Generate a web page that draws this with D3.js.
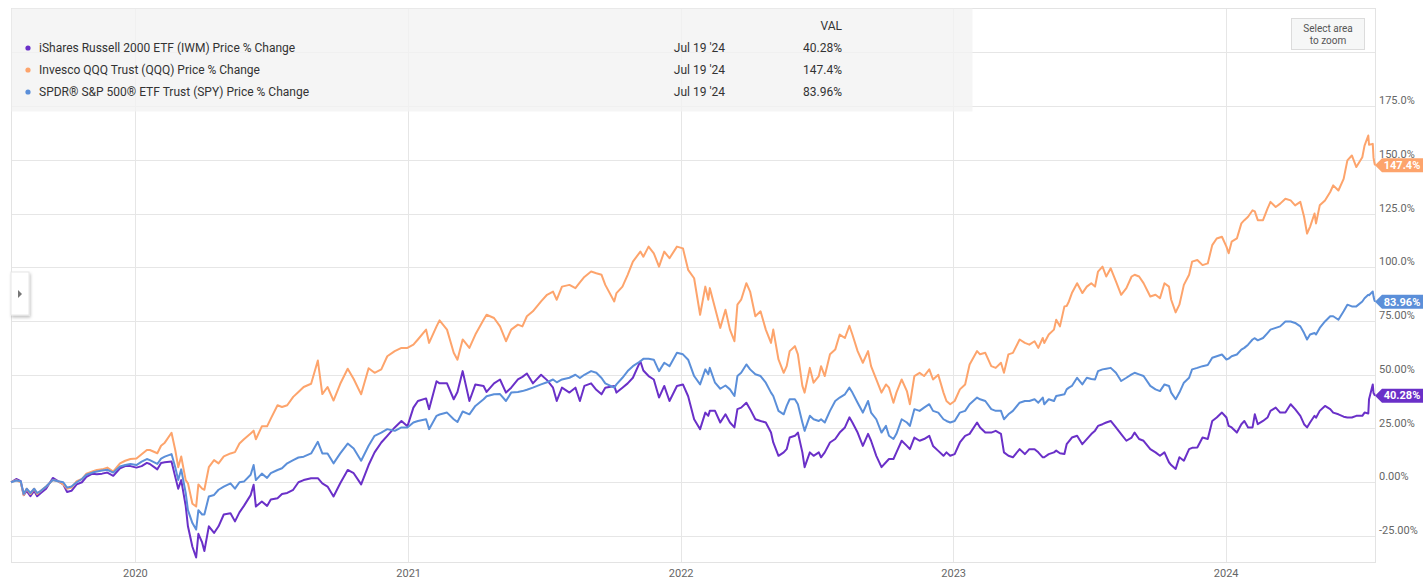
<!DOCTYPE html>
<html>
<head>
<meta charset="utf-8">
<script src="https://cdn.jsdelivr.net/npm/d3@7"></script>
<style>
  html, body { margin: 0; padding: 0; background: #fff; }
  svg { display: block; font-family: Roboto, "Noto Sans", Arial, sans-serif; }
</style>
</head>
<body>
<svg id="chart" width="1424" height="581"></svg>
<script>
// ---------------- data ----------------
const dates = [
"2019-07-19","2019-07-26","2019-08-01","2019-08-05","2019-08-09","2019-08-14","2019-08-19","2019-08-23","2019-08-28","2019-09-04",
"2019-09-13","2019-09-20","2019-09-27","2019-10-02","2019-10-08","2019-10-15","2019-10-22","2019-10-28","2019-11-05","2019-11-11",
"2019-11-18","2019-11-25","2019-12-03","2019-12-12","2019-12-19","2019-12-26","2020-01-03","2020-01-10","2020-01-17","2020-01-21",
"2020-01-31","2020-02-05","2020-02-10","2020-02-19","2020-02-24","2020-02-28","2020-03-03","2020-03-09","2020-03-12","2020-03-18",
"2020-03-23","2020-03-26","2020-03-31","2020-04-03","2020-04-09","2020-04-16","2020-04-22","2020-04-29","2020-05-08","2020-05-14",
"2020-05-20","2020-05-26","2020-06-04","2020-06-08","2020-06-11","2020-06-19","2020-06-26","2020-07-01","2020-07-10","2020-07-16",
"2020-07-23","2020-07-31","2020-08-07","2020-08-14","2020-08-24","2020-09-02","2020-09-08","2020-09-15","2020-09-23","2020-10-02",
"2020-10-12","2020-10-20","2020-10-30","2020-11-09","2020-11-17","2020-11-26","2020-12-04","2020-12-14","2020-12-23","2020-12-31",
"2021-01-08","2021-01-14","2021-01-25","2021-01-29","2021-02-08","2021-02-12","2021-02-22","2021-03-03","2021-03-08","2021-03-15",
"2021-03-24","2021-04-01","2021-04-12","2021-04-16","2021-04-26","2021-05-04","2021-05-12","2021-05-19","2021-05-28","2021-06-03",
"2021-06-09","2021-06-17","2021-06-28","2021-07-06","2021-07-14","2021-07-19","2021-07-26","2021-08-05","2021-08-13","2021-08-19",
"2021-08-25","2021-09-03","2021-09-10","2021-09-17","2021-09-22","2021-10-04","2021-10-07","2021-10-15","2021-10-22","2021-10-29",
"2021-11-08","2021-11-12","2021-11-19","2021-11-26","2021-12-03","2021-12-10","2021-12-17","2021-12-27","2022-01-04","2022-01-11",
"2022-01-19","2022-01-27","2022-02-03","2022-02-07","2022-02-09","2022-02-16","2022-02-23","2022-03-02","2022-03-08","2022-03-14",
"2022-03-18","2022-03-23","2022-03-30","2022-04-04","2022-04-11","2022-04-18","2022-04-25","2022-05-02","2022-05-05","2022-05-12",
"2022-05-19","2022-05-23","2022-05-27","2022-06-03","2022-06-07","2022-06-13","2022-06-16","2022-06-23","2022-06-28","2022-07-05",
"2022-07-08","2022-07-13","2022-07-20","2022-07-27","2022-08-02","2022-08-09","2022-08-15","2022-08-19","2022-08-26","2022-09-02",
"2022-09-09","2022-09-13","2022-09-20","2022-09-27","2022-10-03","2022-10-07","2022-10-13","2022-10-17","2022-10-24","2022-10-31",
"2022-11-04","2022-11-10","2022-11-17","2022-11-23","2022-11-30","2022-12-05","2022-12-12","2022-12-19","2022-12-23","2022-12-28",
"2023-01-03","2023-01-10","2023-01-17","2023-01-23","2023-02-02","2023-02-06","2023-02-13","2023-02-21","2023-02-27","2023-03-06",
"2023-03-10","2023-03-16","2023-03-22","2023-03-31","2023-04-07","2023-04-13","2023-04-20","2023-04-25","2023-05-01","2023-05-03",
"2023-05-09","2023-05-16","2023-05-19","2023-05-24","2023-05-30","2023-06-02","2023-06-05","2023-06-09","2023-06-16","2023-06-23",
"2023-06-29","2023-07-05","2023-07-10","2023-07-14","2023-07-20","2023-07-25","2023-07-31","2023-08-07","2023-08-14","2023-08-21",
"2023-08-28","2023-09-01","2023-09-07","2023-09-13","2023-09-22","2023-09-29","2023-10-05","2023-10-11","2023-10-17","2023-10-20",
"2023-10-26","2023-10-31","2023-11-06","2023-11-13","2023-11-17","2023-11-24","2023-12-01","2023-12-08","2023-12-14","2023-12-20",
"2023-12-27","2024-01-02","2024-01-05","2024-01-09","2024-01-16","2024-01-22","2024-01-26","2024-01-31","2024-02-06","2024-02-09",
"2024-02-13","2024-02-20","2024-02-26","2024-03-01","2024-03-08","2024-03-14","2024-03-21","2024-03-28","2024-04-03","2024-04-10",
"2024-04-15","2024-04-19","2024-04-23","2024-04-29","2024-05-01","2024-05-06","2024-05-13","2024-05-20","2024-05-24","2024-05-31",
"2024-06-07","2024-06-12","2024-06-18","2024-06-24","2024-07-02","2024-07-05","2024-07-10","2024-07-11","2024-07-16","2024-07-17",
"2024-07-18","2024-07-19"
];

const qqq = [
0,1,0,-6,-3,-5.5,-3,-5.5,-4,-2,
1,0.5,-1,-3,-2.5,0.5,1.5,4,5,5.7,
6,6.8,5,8.8,10,10.8,11,13,15,15,
13.5,17,18.4,23,15,7,12,1,-0.5,-10,
-11.3,-1,-3,-3.5,7,10.3,8.8,12,13.4,14,
18,20,22.7,24,20,26,26,29.6,35.8,35,
35.8,39.7,42,44.3,45.8,56.6,41,44.3,38,45.8,
52.8,48,40.9,53,50.9,52.5,58.6,61,62.5,62.5,
64,66.4,71,64.8,72.5,75.3,71,60.2,57,66.4,
62.5,68.7,75.6,77.9,76.4,72.5,65.6,71,73.3,72.5,
77.2,79.5,84.1,87.2,88.7,84.9,91,91.8,90.3,93,
95.5,98,97.2,96.5,91.8,84.1,88,91,96.5,102.6,
107.3,104.9,109.6,106.5,100.3,107.3,104.2,109.6,108.8,98.8,
94.9,77.9,91,84.9,90.3,81,71.8,80.2,71,65.6,
82.6,84.9,92.6,88.7,77.2,79.5,71,64.8,71,57.1,
50.9,54,61,63.3,59.5,44.8,41.7,53.2,46.3,49.4,
54,49.4,59.5,61.7,68.7,67.1,72.8,68.7,61,55.6,
61,54,47.8,41.7,45.5,44,37,41.7,47.8,42.4,
36.3,49.4,50.9,49.4,52.5,47.8,50,41.7,37.8,36.3,
37.8,43.2,45.5,54.8,61,59.5,60.2,54,53.2,55.6,
50.9,59.5,60.2,66.4,64.8,64,65.6,62.5,67.1,64.8,
68.7,71,75.6,72.5,81.8,82,84.1,88,92.6,88,
91,92.6,91,98,100.3,95.7,99.5,93.4,87.2,90.3,
95.7,96.5,95.7,92.6,86.4,87.2,85.6,92.6,91,84.9,
79,82.6,91.8,96.5,102.6,103.4,101,101.8,110.3,113.4,
114.2,109.6,106.5,111.9,113.4,120.4,121.9,123.5,126.5,126,
121.9,121.9,127.3,130.4,128,129.6,131.9,131.1,128.8,130.4,
123.5,115.7,118.8,125,120.4,128.8,131.1,135,138.1,135.7,
141.1,149.7,152,146.6,151.2,156.6,161.3,157,157.4,151,
149,147.4
];

const spy = [
0,0.8,0.5,-5.5,-3,-5,-3,-5,-4,-2,
1,0.5,0,-2.5,-2,0,1.5,3.5,4.5,5,
5.5,5.8,4.5,7.3,8,8.5,8,9.6,10.8,10.3,
8.5,11,11.9,13.1,7,1,6,-5,-13,-19,
-22,-13,-15,-15,-6.6,-5.9,-3.5,-2,-0.5,-3,
0,0.3,3.5,8,1,4,2,4.2,5.7,6.5,
8.8,10.3,11.5,11.9,13.4,18.8,13.4,13.4,8.8,13.4,
18,15.7,10,17,21.6,23.1,24.7,23.9,25.5,25.5,
27.8,28.5,29.3,24.7,30.9,31.5,32.4,29.3,28,32.9,
31.6,35.5,38.6,40,40.9,41,37.8,41.7,42,42.4,
43,44,45.5,46.5,47.8,46.5,47.8,48.6,50,48.5,
50,51.7,50.9,48.5,46,44,45.5,48.6,51.7,54,
56.3,57.4,57.4,57,51.7,55.6,54,60.2,59.5,57,
49.4,45.5,52.5,50.2,53.2,46.3,43.5,45,43.2,40.1,
49.4,50.9,54.8,52.5,50.2,49.4,46.3,41.7,40.1,33.2,
31.6,35.5,38.6,38.6,36.3,27.8,23.9,30.9,29.3,28.5,
29.3,27.8,33.2,37.8,39.4,40.9,44,41.7,37,32.4,
37.8,32.4,29.3,23.1,26.2,21.6,20.1,22.5,29.3,27.8,
26.2,34,33.2,34.7,36.3,33.2,32.4,29.3,28.5,27.8,
28.5,32.4,33.2,36.3,39.4,38.6,37.8,34,33.2,33.2,
29.3,31.6,33.2,37,37.8,37.8,38.6,37,39.4,36.3,
38.6,37.8,40.1,40.5,40.9,43.2,44,44.8,48.6,45.5,
48.6,48,47.8,51.7,52.5,52.8,53.2,50.9,47.1,48.6,
50.2,50.9,50.2,49.4,44.8,43.2,42.4,45.5,44.8,41.7,
38.6,41.7,46.3,48.6,52.5,53.2,54,54.5,57.9,58.6,
59.4,57.1,57.5,58.6,59.4,61.7,62.5,64,66.4,67,
66,67.1,69.4,71,71.8,72.5,74.8,74.8,74.1,72.5,
69.4,66.4,68.7,69.4,68.7,71.8,74.8,77.2,77.2,75.6,
79.5,82.6,81.8,81.8,84.1,85.6,87.2,87,88.7,86.5,
84.9,83.96
];

const iwm = [
0,1.5,0.5,-6,-4,-6.5,-4,-6.5,-5,-3,
2,0.5,-1,-4.5,-4,-1,0,2.5,4,3.7,
4,4.5,3,6.5,7.5,7.5,6.8,7.5,9,8.5,
6,9,9.3,9.6,2.5,-3,1,-11,-20.5,-30,
-35,-24,-28,-32,-20.5,-23.6,-20.5,-15,-14.4,-18.2,
-14,-11,-6,-1.2,-11.3,-9,-11,-8,-7.4,-5.5,
-5,-3.5,0,1,1.9,1.9,-0.5,-2,-6.6,-0.5,
5.7,4.2,-1,8,13.9,18.5,21.6,25.5,28.5,26,
34.7,37.8,39,34,47,46,46,38.6,42,51.7,
37.8,45.5,44.8,42,46,47.8,41.7,44,47.8,49,
50.6,46,50,47.5,44,37.8,44,41.7,44,37.8,
44.8,46,43,40.9,44,44.8,41.7,44,46,48.6,
56.3,52,49.4,47.8,39.4,44.8,37.8,44.8,45.5,40,
29.3,24.7,32.4,30.9,33.2,33.2,27.8,31.6,27.8,25.5,
34,34.7,37,34,29.3,28.5,27.8,23.1,18.5,12.3,
13.9,15.4,20.8,21.6,23.1,13.9,7,13.9,12.3,13.9,
11.6,13.9,18.5,20.1,23.1,25.5,30.2,27.8,23.1,16.9,
22.5,19.3,12.3,7,9.3,10.8,10.8,13.9,19.3,16.9,
15.4,20.8,19.3,20.1,21.6,16.9,14.6,12.3,13.9,12.3,
13.1,18.5,21.6,22.5,27.8,25.5,23.1,23.1,23.9,22.5,
13.9,12.3,11.6,15.4,13.1,15.4,15.4,13.9,11.6,11.6,
13.1,13.9,14.7,13.5,13.1,17.7,19,20.8,21.6,17.7,
20.1,22.4,24,26.2,27,27.8,28.5,25.5,22.4,19.3,
20.8,23.1,20.1,19.3,15.4,13.9,12.3,13.9,9.3,8,
6.2,11.6,10,15.4,16,16.2,20.8,20.1,28.5,30.1,
32.4,30.1,26.2,25.5,23.1,27,28.5,25.5,25.5,31.6,
27,28.5,30.1,33.2,34.7,32.4,32.4,36.3,34,30.9,
27,25.5,27.8,30.9,30,33.2,35.5,34,32.4,31.6,
30.5,30.1,30.1,30.9,30.9,32.4,32,38.6,45.5,41.5,
40.9,40.28
];

const seriesNames = [
  "iShares Russell 2000 ETF (IWM) Price % Change",
  "Invesco QQQ Trust (QQQ) Price % Change",
  "SPDR® S&P 500® ETF Trust (SPY) Price % Change"
];
const seriesColors = ["#6a30c8", "#fda46c", "#5b8fd9"];
const lastDate = ["Jul 19 '24", "Jul 19 '24", "Jul 19 '24"];
const lastValueLabels = ["40.28%", "147.4%", "83.96%"];
const yTickValues = [-25, 0, 25, 50, 75, 100, 125, 150, 175];
const yTickLabels = ["-25.00%", "0.00%", "25.00%", "50.00%", "75.00%", "100.0%", "125.0%", "150.0%", "175.0%"];
const yGridValues = [-25, 0, 25, 50, 75, 100, 125, 150, 175, 200];

// ---------------- chart ----------------
const parse = d3.timeParse("%Y-%m-%d");
const dateObjs = dates.map(parse);
const seriesValues = [iwm, qqq, spy];
const series = seriesValues.map((vals, i) => ({
  name: seriesNames[i], color: seriesColors[i],
  points: vals.map((v, j) => ({ date: dateObjs[j], value: v }))
}));

const svg = d3.select("#chart");
const L = 11, R = 1375, T = 8, B = 562;

const x = d3.scaleTime()
  .domain([parse("2019-07-19"), parse("2024-07-19")])
  .range([L, R]);
const y = d3.scaleLinear()
  .domain([-37.1, 220.6])
  .range([B, T]);

const gridColor = "#e6e6e6";

// horizontal grid
svg.append("g").selectAll("line").data(yGridValues).join("line")
  .attr("x1", L).attr("x2", R)
  .attr("y1", d => Math.round(y(d)) + 0.5).attr("y2", d => Math.round(y(d)) + 0.5)
  .attr("stroke", gridColor).attr("stroke-width", 1);

// vertical grid (years)
const yearTicks = x.ticks(d3.timeYear.every(1));
svg.append("g").selectAll("line").data(yearTicks).join("line")
  .attr("x1", d => Math.round(x(d)) + 0.5).attr("x2", d => Math.round(x(d)) + 0.5)
  .attr("y1", T).attr("y2", B)
  .attr("stroke", gridColor).attr("stroke-width", 1);

// frame
svg.append("rect")
  .attr("x", L + 0.5).attr("y", T + 0.5)
  .attr("width", R - L).attr("height", B - T)
  .attr("fill", "none").attr("stroke", "#e3e3e3").attr("stroke-width", 1);

// lines
const line = d3.line()
  .x(d => x(d.date))
  .y(d => y(d.value))
  .curve(d3.curveLinear);

const lineG = svg.append("g");
series.forEach(s => {
  lineG.append("path")
    .datum(s.points)
    .attr("fill", "none")
    .attr("stroke", s.color)
    .attr("stroke-width", 2)
    .attr("stroke-linejoin", "round")
    .attr("d", line);
});

// x axis
const xAxis = d3.axisBottom(x)
  .tickValues(yearTicks)
  .tickFormat(d3.timeFormat("%Y"))
  .tickSize(0)
  .tickPadding(0);
const xg = svg.append("g").attr("transform", `translate(0,${B})`).call(xAxis);
xg.select(".domain").remove();
xg.selectAll("text")
  .attr("y", 15).attr("dy", 0)
  .attr("fill", "#666").attr("font-size", "11px")
  .attr("font-family", "Roboto, sans-serif");

// y axis (right)
const yAxis = d3.axisRight(y)
  .tickValues(yTickValues)
  .tickFormat((d, i) => yTickLabels[i])
  .tickSize(0)
  .tickPadding(4);
const yg = svg.append("g").attr("transform", `translate(${R},0)`).call(yAxis);
yg.select(".domain").remove();
yg.selectAll("text")
  .attr("dy", "-0.22em")
  .attr("fill", "#666").attr("font-size", "11px")
  .attr("font-family", "Roboto, sans-serif");

// end-value flags
series.forEach((s, i) => {
  const last = s.points[s.points.length - 1];
  const yv = y(last.value);
  const g = svg.append("g");
  const h = 7;
  g.append("path")
    .attr("d", `M${R},${yv} L${R + 7},${yv - h} L${1423},${yv - h} L${1423},${yv + h} L${R + 7},${yv + h} Z`)
    .attr("fill", s.color);
  g.append("text")
    .attr("x", 1402).attr("y", yv)
    .attr("dy", "0.35em")
    .attr("text-anchor", "middle")
    .attr("fill", "#fff")
    .attr("font-size", "11px")
    .attr("font-weight", "bold")
    .attr("font-family", "Roboto, sans-serif")
    .text(lastValueLabels[i]);
});

// legend box
const leg = svg.append("g");
leg.append("rect")
  .attr("x", L + 0.5).attr("y", T + 0.5)
  .attr("width", 961).attr("height", 103)
  .attr("fill", "#f2f2f2").attr("fill-opacity", 0.8);
leg.append("text")
  .attr("x", 842).attr("y", 26).attr("dy", "0.35em")
  .attr("text-anchor", "end")
  .attr("font-size", "12px").attr("fill", "#333")
  .text("VAL");
const rowY = [48, 70, 92];
series.forEach((s, i) => {
  leg.append("circle").attr("cx", 28).attr("cy", rowY[i]).attr("r", 2.6).attr("fill", s.color);
  leg.append("text").attr("x", 39).attr("y", rowY[i]).attr("dy", "0.35em")
    .attr("font-size", "12px").attr("fill", "#333").text(s.name);
  leg.append("text").attr("x", 725).attr("y", rowY[i]).attr("dy", "0.35em")
    .attr("text-anchor", "end")
    .attr("font-size", "12px").attr("fill", "#333").text(lastDate[i]);
  leg.append("text").attr("x", 842).attr("y", rowY[i]).attr("dy", "0.35em")
    .attr("text-anchor", "end")
    .attr("font-size", "12px").attr("fill", "#333").text(lastValueLabels[i]);
});

// "Select area to zoom" box
const zb = svg.append("g");
zb.append("rect")
  .attr("x", 1291.5).attr("y", 18.5).attr("width", 73).attr("height", 31)
  .attr("fill", "#f6f7f7").attr("stroke", "#dcdcdc");
zb.append("text").attr("x", 1328).attr("y", 28).attr("dy", "0.35em")
  .attr("text-anchor", "middle").attr("font-size", "10px").attr("fill", "#555").text("Select area");
zb.append("text").attr("x", 1328).attr("y", 40).attr("dy", "0.35em")
  .attr("text-anchor", "middle").attr("font-size", "10px").attr("fill", "#555").text("to zoom");

// side toggle button
const defs = svg.append("defs");
const f = defs.append("filter").attr("id", "shadow").attr("x", "-50%").attr("y", "-50%").attr("width", "200%").attr("height", "200%");
f.append("feDropShadow").attr("dx", 1).attr("dy", 2).attr("stdDeviation", 1.6).attr("flood-color", "#000").attr("flood-opacity", 0.25);
const sb = svg.append("g");
sb.append("rect")
  .attr("x", 11).attr("y", 272).attr("width", 18).attr("height", 43)
  .attr("fill", "#fff").attr("stroke", "#e6e6e6").attr("filter", "url(#shadow)");
sb.append("path").attr("d", "M18,290 L22,294 L18,298 Z").attr("fill", "#777");
</script>
</body>
</html>
